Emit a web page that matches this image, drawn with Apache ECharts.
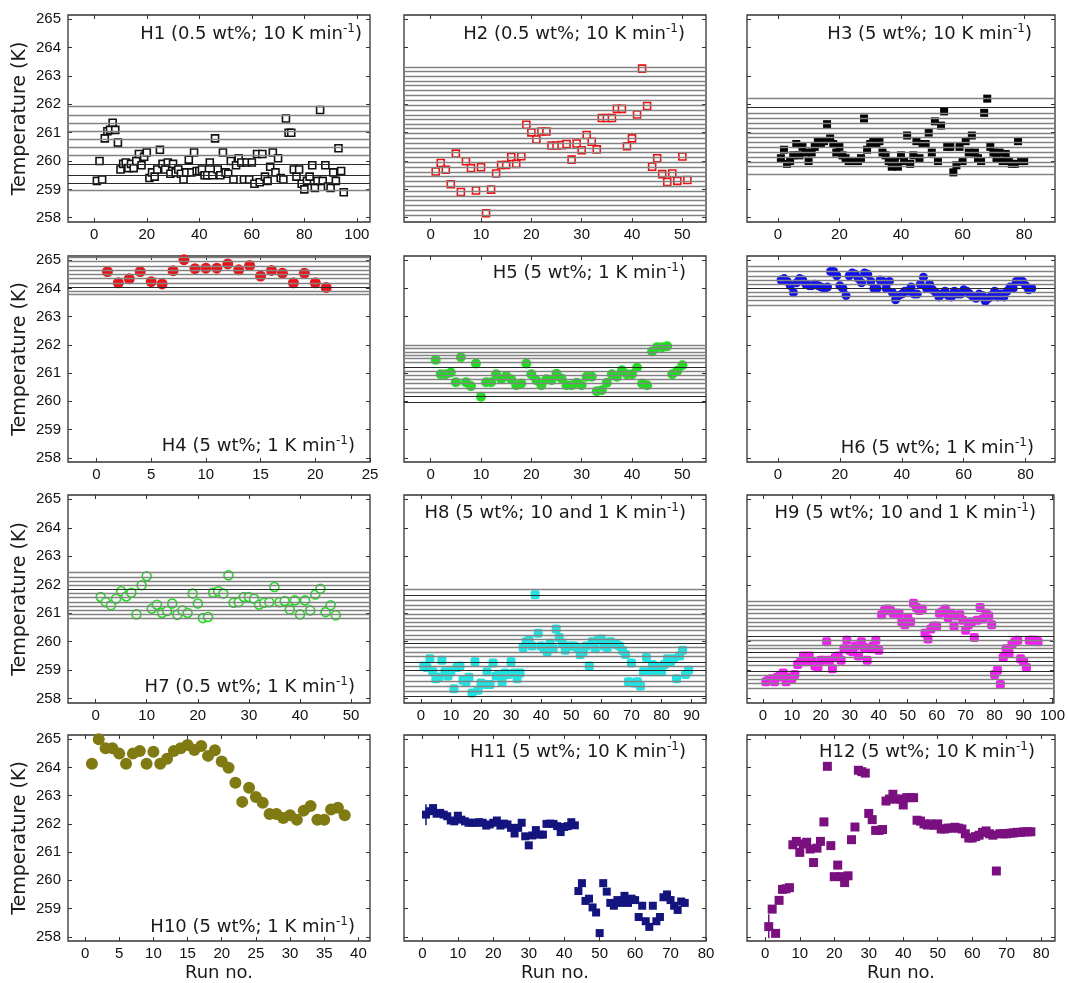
<!DOCTYPE html>
<html><head><meta charset="utf-8">
<script src="https://cdn.jsdelivr.net/npm/echarts@6/dist/echarts.min.js"></script>
<style>html,body{margin:0;padding:0;background:#fff}#c{width:1068px;height:983px}</style>
</head><body><div id="c"></div>
<script>
// ---------- data ----------
const yTicks = [258, 259, 260, 261, 262, 263, 264, 265];

const h1 = [259.3, 260.0, 259.35, 260.8, 261.05, 261.1, 261.35, 261.1, 260.65, 259.7,
 259.9, 259.95, 259.75, 259.9, 259.75, 260.0, 260.25, 259.85, 260.15, 260.3,
 259.4, 259.6, 259.45, 259.7, 260.4, 259.9, 259.7, 259.95, 259.55, 259.9,
 259.6, 259.7, 259.55, 259.35, 259.6, 260.05, 259.6, 260.3, 259.65, 259.65,
 259.7, 259.5, 259.5, 259.95, 259.5, 260.8, 259.7, 259.5, 260.3, 259.6,
 259.55, 260.0, 259.35, 259.85, 260.1, 259.95, 259.35, 259.95, 259.35, 259.95,
 259.2, 260.25, 259.25, 260.25, 259.45, 259.3, 259.8, 260.3, 259.6, 260.1,
 259.4, 259.35, 261.5, 261.0, 261.0, 259.7, 259.45, 259.7, 259.2, 259.0,
 259.3, 259.45, 259.85, 259.05, 259.3, 261.8, 259.3, 259.85, 259.1, 259.05,
 259.6, 259.3, 260.45, 259.65, 258.9];
const h1Lines = [261.93, 261.61, 261.35, 261.06, 260.77, 260.48, 260.19, 258.97];
const h1Dark = [259.88, 259.5, 259.22];

const h2 = [259.63, 259.93, 259.69, 259.18, 260.26, 258.91, 259.99, 259.75, 258.96, 259.78,
 258.16, 258.99, 259.56, 259.86, 259.86, 260.14, 259.9, 260.17, 261.28, 261.01,
 260.76, 261.04, 261.04, 260.55, 260.55, 260.56, 260.6, 260.05, 260.62, 260.38,
 260.92, 260.68, 260.41, 261.52, 261.52, 261.52, 261.84, 261.84, 260.52, 260.8,
 261.64, 263.26, 261.94, 259.8, 260.1, 259.54, 259.26, 259.56, 259.3, 260.16, 259.33];
const h2Lines = [263.32, 263.15, 262.98, 262.82, 262.66, 262.5, 262.32, 262.15, 261.98, 261.8,
 261.63, 261.47, 261.3, 261.14, 260.97, 260.8, 260.62, 260.45, 260.3, 260.12,
 259.96, 259.78, 259.62, 259.45, 259.28, 259.1, 258.94, 258.77, 258.6, 258.43, 258.27, 258.1];
const h2Dark = [];

const h3 = [260.1, 260.4, 259.9, 260.0, 260.2, 260.6, 260.2, 260.5, 260.3, 260.0,
 260.3, 260.5, 260.7, 260.6, 260.7, 261.3, 260.8, 260.6, 260.3, 260.5,
 260.2, 260.1, 260.0, 260.0, 260.0, 260.0, 260.1, 261.5, 260.4, 260.6,
 260.7, 260.6, 260.7, 260.3, 260.2, 260.0, 259.8, 260.0, 259.8, 260.2,
 260.0, 260.9, 259.9, 260.2, 260.7, 260.1, 260.6, 260.6, 261.0, 260.3,
 261.4, 260.0, 261.25, 261.75, 260.5, 260.5, 259.6, 259.85, 260.5, 260.0,
 260.7, 260.3, 260.9, 260.3, 260.1, 260.0, 261.7, 262.2, 260.5, 260.3,
 260.1, 260.3, 260.0, 260.25, 260.0, 259.9, 259.9, 260.7, 260.0, 260.0];
const h3Lines = [262.23, 261.69, 261.51, 261.33, 261.15, 260.98, 260.83, 260.68, 260.5, 260.32, 260.14, 259.96, 259.8, 259.52];
const h3Dark = [261.9];

const h4 = [264.6, 264.2, 264.34, 264.6, 264.24, 264.16, 264.63, 265.02, 264.7, 264.72,
 264.72, 264.87, 264.66, 264.81, 264.44, 264.64, 264.54, 264.2, 264.54, 264.2, 264.03];
const h4Lines = [265.1, 264.95, 264.8, 264.65, 264.5, 264.35, 264.2, 263.9, 263.8];
const h4Dark = [264.05];

const h5 = [261.47, 260.96, 260.96, 261.02, 260.68, 261.56, 260.68, 260.54, 261.34, 260.16,
 260.68, 260.68, 260.96, 260.78, 260.9, 260.78, 260.57, 260.63, 261.34, 260.96,
 260.75, 260.57, 260.78, 260.75, 260.98, 260.81, 260.57, 260.57, 260.66, 260.57,
 260.87, 260.87, 260.36, 260.39, 260.66, 260.96, 260.87, 261.1, 260.96, 260.96,
 261.2, 260.63, 260.57, 261.77, 261.92, 261.92, 261.95, 260.96, 261.08, 261.28];
const h5Lines = [261.98, 261.87, 261.75, 261.63, 261.51, 261.37, 261.07, 260.91, 260.77, 260.63, 260.47, 260.32];
const h5Dark = [261.21, 260.17, 259.97];

const h6 = [264.3, 264.35, 264.25, 264.1, 263.85, 264.2, 264.35, 264.3, 264.15, 264.1,
 264.1, 264.15, 264.1, 264.05, 264.0, 264.05, 264.6, 264.6, 264.45, 264.1,
 264.0, 263.75, 264.45, 264.55, 264.5, 264.35, 264.2, 264.55, 264.5, 264.25,
 264.0, 264.0, 264.3, 264.25, 264.0, 264.25, 263.85, 263.6, 263.75, 263.8,
 263.9, 263.9, 264.05, 263.8, 263.8, 264.15, 264.4, 264.0, 264.15, 263.95,
 263.85, 263.7, 263.8, 263.9, 263.75, 263.7, 263.9, 263.8, 263.8, 263.95,
 263.9, 263.8, 263.7, 263.65, 263.8, 263.75, 263.55, 263.65, 263.75, 263.9,
 263.7, 263.8, 263.7, 263.9, 264.05, 264.0, 264.25, 264.25, 264.25, 264.1, 263.95, 264.0];
const h6Lines = [264.8, 264.61, 264.44, 264.29, 264.15, 263.87, 263.73, 263.58, 263.42];
const h6Dark = [264.02];

const h7 = [261.57, 261.39, 261.28, 261.51, 261.77, 261.59, 261.72, 260.96, 261.98, 262.3,
 261.16, 261.3, 261.01, 261.08, 261.34, 260.95, 261.1, 261.01, 261.69, 261.34,
 260.83, 260.87, 261.72, 261.77, 261.69, 262.33, 261.37, 261.39, 261.57, 261.57,
 261.51, 261.3, 261.37, 261.39, 261.92, 261.39, 261.43, 261.13, 261.45, 260.96,
 261.45, 261.1, 261.66, 261.86, 261.04, 261.28, 260.93];
const h7Lines = [262.45, 262.27, 262.12, 261.98, 261.69, 261.55, 261.39, 261.24, 261.1, 260.95, 260.83];
const h7Dark = [261.84];

const h8 = [259.15, 259.1, 259.4, 258.95, 258.7, 258.75, 259.35, 258.95, 258.8, 258.95,
 258.35, 259.1, 259.15, 258.65, 258.6, 258.75, 258.2, 259.3, 258.3, 258.55,
 258.5, 258.95, 258.5, 259.25, 258.8, 258.85, 258.6, 258.9, 258.85, 259.3,
 258.9, 258.7, 258.9, 259.8, 260.0, 260.05, 259.85, 261.65, 260.3, 259.85,
 259.75, 259.65, 259.95, 259.75, 260.45, 260.15, 259.95, 259.7, 259.85, 259.85,
 259.85, 259.8, 259.55, 259.65, 259.85, 259.15, 260.0, 259.75, 260.05, 260.1,
 259.85, 259.8, 260.0, 259.95, 259.9, 259.85, 259.7, 259.55, 258.6, 259.25,
 258.55, 258.6, 258.45, 258.95, 259.45, 258.95, 259.2, 258.95, 259.1, 258.95,
 259.2, 259.4, 259.3, 259.4, 258.7, 259.5, 259.7, 258.85, 259.0];
const h8Lines = [261.85, 261.45, 261.29, 261.13, 260.98, 260.83, 260.69, 260.54, 260.39, 260.24,
 260.1, 259.8, 259.64, 259.5, 259.14, 258.81, 258.63, 258.45, 258.27];
const h8Dark = [261.63, 259.94, 259.29, 258.99, 258.1];

const h9 = [258.6, 258.65, 258.7, 258.6, 258.75, 258.8, 258.9, 258.6, 258.75, 258.7,
 258.85, 259.2, 259.3, 259.5, 259.3, 259.5, 259.3, 259.15, 259.1, 259.35,
 259.35, 260.0, 259.35, 259.05, 259.45, 259.5, 259.35, 259.75, 260.05, 259.7,
 259.65, 259.85, 259.5, 260.0, 259.8, 259.35, 259.75, 259.85, 260.05, 259.7,
 260.95, 261.1, 261.15, 261.1, 261.0, 261.0, 261.0, 260.7, 260.6, 260.85,
 260.7, 261.35, 261.2, 261.1, 261.15, 260.3, 260.1, 260.45, 260.55, 260.55,
 261.0, 261.05, 261.15, 260.85, 261.0, 260.55, 260.9, 260.95, 260.75, 260.4,
 260.6, 260.7, 260.15, 260.75, 261.2, 260.8, 261.0, 260.9, 260.6, 258.85,
 259.0, 258.5, 259.45, 259.75, 259.6, 259.9, 260.0, 260.05, 259.4, 259.3,
 259.1, 260.05, 260.05, 260.05, 260.0];
const h9Lines = [261.42, 261.28, 261.13, 260.99, 260.83, 260.69, 260.54, 260.4, 260.04, 259.89,
 259.77, 259.45, 259.16, 258.83, 258.68, 258.53, 258.38];
const h9Dark = [260.21, 259.62, 259.3, 258.98];

const h10 = [264.13, 265.0, 264.68, 264.68, 264.49, 264.13, 264.49, 264.58, 264.13, 264.56,
 264.13, 264.31, 264.58, 264.68, 264.8, 264.62, 264.76, 264.41, 264.61, 264.21,
 263.99, 263.46, 262.78, 263.28, 262.95, 262.75, 262.35, 262.35, 262.21, 262.31,
 262.15, 262.47, 262.63, 262.15, 262.15, 262.51, 262.57, 262.31];

const h11 = [262.33, 262.45, 262.56, 262.36, 262.39, 262.33, 262.27, 262.12, 262.09, 262.29,
 262.15, 262.09, 262.04, 262.04, 262.04, 262.06, 262.04, 261.94, 261.98, 262.04,
 262.12, 261.94, 262.01, 261.98, 261.86, 261.66, 261.86, 262.04, 261.56, 261.24,
 261.59, 261.78, 261.62, 261.62, 262.0, 262.01, 262.0, 261.92, 261.71, 261.89,
 261.92, 262.06, 261.95, 259.62, 259.9, 259.27, 259.35, 259.04, 258.86, 258.13,
 259.9, 259.6, 259.2, 259.1, 259.3, 259.2, 259.45, 259.2, 259.35, 259.3,
 258.7, 259.1, 258.55, 258.35, 259.1, 258.55, 258.7, 259.4, 259.5, 259.3,
 259.1, 258.95, 259.25, 259.2];
const h11ErrBar = [261.95, 262.7];

const h12 = [258.36, 258.98, 258.12, 259.29, 259.68, 259.7, 259.74, 261.26, 261.38, 260.99,
 261.29, 261.35, 261.11, 260.63, 261.14, 261.38, 262.07, 264.04, 261.23, 260.13,
 260.54, 260.13, 259.92, 260.16, 261.44, 261.89, 263.9, 263.85, 263.8, 262.37,
 262.15, 261.77, 261.77, 261.8, 262.81, 262.88, 263.05, 262.88, 262.88, 262.67,
 262.93, 262.93, 262.93, 262.13, 262.1, 262.0, 261.96, 262.0, 261.95, 262.0,
 261.82, 261.82, 261.85, 261.85, 261.88, 261.85, 261.82, 261.65, 261.5, 261.5,
 261.55, 261.6, 261.7, 261.75, 261.65, 261.6, 260.33, 261.65, 261.65, 261.65,
 261.67, 261.68, 261.7, 261.7, 261.72, 261.72, 261.72];
const h12ErrBar = [257.95, 258.8];

const xt1 = [0, 20, 40, 60, 80, 100];
const xt2 = [0, 10, 20, 30, 40, 50];
const xt3 = [0, 20, 40, 60, 80];
const xt4 = [0, 5, 10, 15, 20, 25];
const xt8 = [0, 10, 20, 30, 40, 50, 60, 70, 80, 90];
const xt9 = [0, 10, 20, 30, 40, 50, 60, 70, 80, 90, 100];
const xt10 = [0, 5, 10, 15, 20, 25, 30, 35, 40];
const xt11 = [0, 10, 20, 30, 40, 50, 60, 70, 80];

// ---------- layout / style ----------
const panels = [
 {d:h1, L:h1Lines, D:h1Dark, xt:xt1, xr:[-10,105], sym:'rect', size:7, col:'#111', open:true,  t:'H1 (0.5 wt%; 10 K min', tr:706, tt:23},
 {d:h2, L:h2Lines, D:h2Dark, xt:xt2, xr:[-5.3,54.7], sym:'rect', size:7, col:'#ee1111', open:true, t:'H2 (0.5 wt%; 10 K min', tr:383, tt:23},
 {d:h3, L:h3Lines, D:h3Dark, xt:xt3, xr:[-10,90], sym:'rect', size:8, col:'#000', open:false, t:'H3 (5 wt%; 10 K min', tr:36, tt:23},
 {d:h4, L:h4Lines, D:h4Dark, xt:xt4, xr:[-2.6,25], sym:'circle', size:11, col:'#e8141a', open:false, t:'H4 (5 wt%; 1 K min', tr:713, tb:528},
 {d:h5, L:h5Lines, D:h5Dark, xt:xt2, xr:[-5.3,54.7], sym:'circle', size:10, col:'#22dd22', open:false, t:'H5 (5 wt%; 1 K min', tr:382, tt:262},
 {d:h6, L:h6Lines, D:h6Dark, xt:xt3, xr:[-10,89.5], sym:'circle', size:9, col:'#1010ee', open:false, t:'H6 (5 wt%; 1 K min', tr:34, tb:526},
 {d:h7, L:h7Lines, D:h7Dark, xt:xt2, xr:[-5.4,53.7], sym:'circle', size:9, col:'#22dd22', open:true, t:'H7 (0.5 wt%; 1 K min', tr:713, tb:287},
 {d:h8, L:h8Lines, D:h8Dark, xt:xt8, xr:[-5.6,94.8], sym:'roundRect', size:9, col:'#22e2e2', open:false, t:'H8 (5 wt%; 10 and 1 K min', tr:382, tt:502},
 {d:h9, L:h9Lines, D:h9Dark, xt:xt9, xr:[-5.5,100.5], sym:'roundRect', size:9, col:'#ee22ee', open:false, t:'H9 (5 wt%; 10 and 1 K min', tr:32, tt:502},
 {d:h10, L:[], D:[], xt:xt10, xr:[-2.5,41.7], sym:'circle', size:12, col:'#807a12', open:false, t:'H10 (5 wt%; 1 K min', tr:713, tb:47},
 {d:h11, L:[], D:[], xt:xt11, xr:[-5.2,80], sym:'rect', size:8, col:'#14147f', open:false, t:'H11 (5 wt%; 10 K min', tr:382, tt:741, err:h11ErrBar},
 {d:h12, L:[], D:[], xt:xt11, xr:[-5.3,84], sym:'rect', size:9, col:'#7a1080', open:false, t:'H12 (5 wt%; 10 K min', tr:33, tt:741, err:h12ErrBar}
];
const colL = [68, 404, 747], colW = [302, 302, 308];
const rowT = [15, 256, 495, 735], rowH = [207, 206, 208, 207];
const yMin = 257.85, yMax = 265.15;
const tickFont = {fontSize: 15, color: '#111', fontFamily: 'Liberation Sans'};

const grids = [], xAxes = [], yAxes = [], series = [], titles = [];
panels.forEach((p, i) => {
  const r = Math.floor(i / 3), c = i % 3;
  grids.push({left: colL[c], top: rowT[r], width: colW[c], height: rowH[r], show: true,
    borderColor: '#333', borderWidth: 1.3, backgroundColor: '#fff'});
  const tick = {inside: true, length: 4, lineStyle: {color: '#333', width: 1}};
  const noLine = {show: false, onZero: false};
  xAxes.push({type: 'value', gridIndex: i, min: p.xr[0], max: p.xr[1], position: 'bottom',
    axisLine: noLine, splitLine: {show: false},
    axisTick: Object.assign({customValues: p.xt}, tick),
    axisLabel: Object.assign({customValues: p.xt, margin: 5}, tickFont),
    name: r === 3 ? 'Run no.' : '', nameLocation: 'middle', nameGap: 23,
    nameTextStyle: {fontSize: 18, fontFamily: 'DejaVu Sans', color: '#1a1a1a'}});
  xAxes.push({type: 'value', gridIndex: i, min: p.xr[0], max: p.xr[1], position: 'top',
    axisLine: noLine, splitLine: {show: false},
    axisTick: Object.assign({customValues: p.xt}, tick), axisLabel: {show: false}});
  yAxes.push({type: 'value', gridIndex: i, min: yMin, max: yMax, position: 'left',
    axisLine: noLine, splitLine: {show: false},
    axisTick: Object.assign({customValues: yTicks}, tick),
    axisLabel: Object.assign({customValues: yTicks, show: c === 0, margin: 7}, tickFont),
    name: c === 0 ? 'Temperature (K)' : '', nameLocation: 'middle', nameGap: 38,
    nameTextStyle: {fontSize: 19, fontFamily: 'DejaVu Sans', color: '#1a1a1a'}});
  yAxes.push({type: 'value', gridIndex: i, min: yMin, max: yMax, position: 'right',
    axisLine: noLine, splitLine: {show: false},
    axisTick: Object.assign({customValues: yTicks}, tick), axisLabel: {show: false}});

  const ml = p.L.map(v => ({yAxis: v})).concat(p.D.map(v => ({yAxis: v, lineStyle: {color: '#2a2a2a', width: 1.2}})));
  if (ml.length) {
    series.push({type: 'scatter', xAxisIndex: 2 * i, yAxisIndex: 2 * i, data: [], z: 1, silent: true,
      markLine: {silent: true, symbol: ['none', 'none'], animation: false, label: {show: false},
        lineStyle: {color: '#828282', width: 1.3, type: 'solid'}, data: ml}});
  }
  if (p.err) {
    series.push({type: 'line', xAxisIndex: 2 * i, yAxisIndex: 2 * i, z: 2, symbol: 'none', silent: true,
      data: [[1, p.err[0]], [1, p.err[1]]], lineStyle: {color: p.col, width: 1.5}});
  }
  series.push({type: 'scatter', xAxisIndex: 2 * i, yAxisIndex: 2 * i, z: 3, clip: false,
    symbol: p.sym, symbolSize: p.size,
    itemStyle: p.open ? {color: '#fff', borderColor: p.col, borderWidth: 1.6, opacity: 1} : {color: p.col, opacity: 1},
    data: p.d.map((v, k) => [k + 1, v])});

  const tt = {text: '{a|' + p.t + '}{b|-1}{a|)}', right: p.tr, padding: 0,
    textStyle: {fontWeight: 'normal', rich: {
      a: {fontSize: 18, fontFamily: 'DejaVu Sans', fontWeight: 'normal', color: '#1a1a1a'},
      b: {fontSize: 12, fontFamily: 'DejaVu Sans', fontWeight: 'normal', color: '#1a1a1a', padding: [0, 0, 10, 0]}}}};
  if (p.tt !== undefined) tt.top = p.tt; else tt.bottom = p.tb;
  titles.push(tt);
});

const chart = echarts.init(document.getElementById('c'), null, {renderer: 'canvas'});
chart.setOption({animation: false, backgroundColor: '#fff', title: titles, grid: grids,
  xAxis: xAxes, yAxis: yAxes, series: series});
</script></body></html>
